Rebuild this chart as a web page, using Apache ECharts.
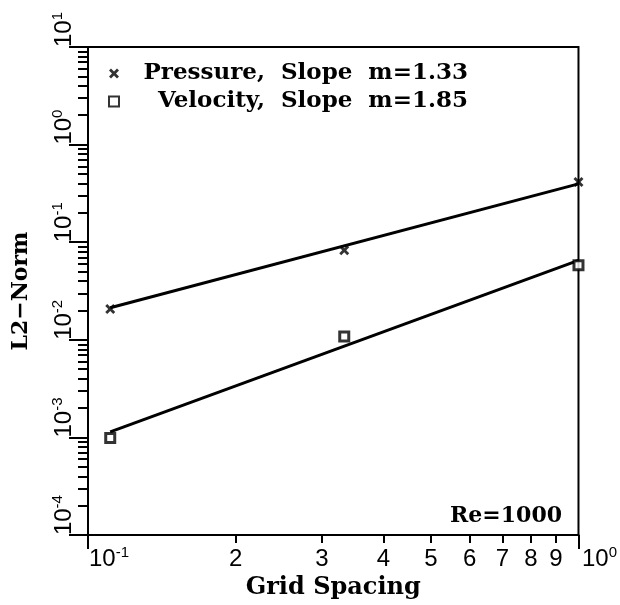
<!DOCTYPE html>
<html>
<head>
<meta charset="utf-8">
<script src="https://cdn.jsdelivr.net/npm/echarts@6/dist/echarts.min.js"></script>
<style>
  html, body { margin: 0; padding: 0; background: #fff; }
  #chart { width: 620px; height: 605px; }
</style>
</head>
<body>
<div id="chart"></div>
<script>
// grid spacing h and measured L2 error norms
const gridSpacing = [0.111, 0.333, 1.0];
const pressureNorm = [0.0207, 0.0826, 0.415];
const velocityNorm = [0.00099, 0.0108, 0.058];

const fitSpacing = [0.111, 1.0];
const pressureFit = [0.0213, 0.396];
const velocityFit = [0.00114, 0.0653];

const pressureName = 'Pressure,  Slope  m=1.33';
const velocityName = 'Velocity,  Slope  m=1.85';

// ticks and their labels
const xMajorTicks = [0.1, 1];
const xMajorLabels = ['{g|}{t|10}{s|-1}', '{g|}{t|10}{s|0}'];
const xMinorTicks = [0.2, 0.3, 0.4, 0.5, 0.6, 0.7, 0.8, 0.9];
const xMinorLabels = ['2', '3', '4', '5', '6', '7', '8', '9'];
const yMajorTicks = [1e-4, 1e-3, 1e-2, 1e-1, 1, 10];
const yMajorLabels = ['-4', '-3', '-2', '-1', '0', '1'];
const yMinorTicks = [];
yMajorTicks.slice(0, -1).forEach(d => {
  for (let k = 2; k <= 9; k++) yMinorTicks.push(+(d * k).toPrecision(3));
});

const serif = 'DejaVu Serif';
const sans = 'Liberation Sans';

const labelRich = {
  t: { fontFamily: sans, fontSize: 24, lineHeight: 28, color: '#000' },
  s: { fontFamily: sans, fontSize: 15, lineHeight: 15, verticalAlign: 'top', color: '#000' },
  g: { width: 42 }
};

function nearestIndex(list, v) {
  let best = 0;
  list.forEach((x, i) => {
    if (Math.abs(Math.log(x / v)) < Math.abs(Math.log(list[best] / v))) best = i;
  });
  return best;
}

const pairs = (xs, ys) => xs.map((x, i) => [x, ys[i]]);

const crossPath = 'path://M0,2L2,0L5,3L8,0L10,2L7,5L10,8L8,10L5,7L2,10L0,8L3,5Z';

const chart = echarts.init(document.getElementById('chart'), null, { renderer: 'canvas' });

chart.setOption({
  animation: false,
  backgroundColor: '#fff',
  title: {
    text: 'Re=1000',
    right: 58,
    bottom: 78,
    padding: 0,
    textStyle: { fontFamily: serif, fontWeight: 'bold', fontSize: 22, color: '#000' }
  },
  legend: {
    orient: 'vertical',
    left: 108,
    top: 62,
    itemWidth: 10,
    itemHeight: 10,
    itemGap: 5,
    padding: 0,
    data: [pressureName, velocityName],
    formatter: name => '{r|' + name + '}',
    textStyle: {
      rich: {
        r: { fontFamily: serif, fontWeight: 'bold', fontSize: 23, color: '#000', width: 344, align: 'right' }
      }
    }
  },
  grid: {
    left: 88, right: 41, top: 47, bottom: 66,
    show: true,
    borderColor: '#000',
    borderWidth: 2
  },
  xAxis: [
    {
      type: 'log',
      min: 0.1,
      max: 1,
      name: 'Grid Spacing',
      nameLocation: 'middle',
      nameGap: 40,
      nameTextStyle: { fontFamily: serif, fontWeight: 'bold', fontSize: 24, color: '#000' },
      axisLine: { lineStyle: { color: '#000', width: 2 } },
      axisTick: { customValues: xMajorTicks, length: 14, lineStyle: { color: '#000', width: 2 } },
      axisLabel: {
        customValues: xMajorTicks,
        margin: 10,
        formatter: v => xMajorLabels[nearestIndex(xMajorTicks, v)],
        rich: labelRich
      },
      splitLine: { show: false }
    },
    {
      type: 'log',
      min: 0.1,
      max: 1,
      position: 'bottom',
      offset: 0,
      axisLine: { show: false },
      axisTick: { customValues: xMinorTicks, length: 8, lineStyle: { color: '#000', width: 2 } },
      axisLabel: {
        customValues: xMinorTicks,
        margin: 10,
        formatter: v => '{t|' + xMinorLabels[nearestIndex(xMinorTicks, v)] + '}',
        rich: labelRich
      },
      splitLine: { show: false }
    }
  ],
  yAxis: [
    {
      type: 'log',
      min: 1e-4,
      max: 10,
      name: 'L2\u2212Norm',
      nameLocation: 'middle',
      nameRotate: 90,
      nameGap: 56,
      nameTextStyle: { fontFamily: serif, fontWeight: 'bold', fontSize: 22, color: '#000' },
      axisLine: { lineStyle: { color: '#000', width: 2 } },
      axisTick: { customValues: yMajorTicks, length: 19, lineStyle: { color: '#000', width: 2 } },
      axisLabel: {
        customValues: yMajorTicks,
        rotate: 90,
        align: 'left',
        verticalAlign: 'bottom',
        margin: 10,
        formatter: v => '{t|10}{s|' + yMajorLabels[nearestIndex(yMajorTicks, v)] + '}',
        rich: labelRich
      },
      splitLine: { show: false }
    },
    {
      type: 'log',
      min: 1e-4,
      max: 10,
      position: 'left',
      offset: 0,
      axisLine: { show: false },
      axisTick: { customValues: yMinorTicks, length: 10, lineStyle: { color: '#000', width: 2 } },
      axisLabel: { show: false },
      splitLine: { show: false }
    }
  ],
  series: [
    {
      name: 'pressure fit',
      type: 'line',
      data: pairs(fitSpacing, pressureFit),
      showSymbol: false,
      lineStyle: { color: '#000', width: 3 },
      z: 2
    },
    {
      name: 'velocity fit',
      type: 'line',
      data: pairs(fitSpacing, velocityFit),
      showSymbol: false,
      lineStyle: { color: '#000', width: 3 },
      z: 2
    },
    {
      name: pressureName,
      type: 'scatter',
      data: pairs(gridSpacing, pressureNorm),
      symbol: crossPath,
      symbolSize: 10,
      itemStyle: { color: '#000' },
      z: 3
    },
    {
      name: velocityName,
      type: 'scatter',
      data: pairs(gridSpacing, velocityNorm),
      symbol: 'rect',
      symbolSize: 9,
      itemStyle: { color: '#fff', borderColor: '#000', borderWidth: 3 },
      z: 3
    }
  ]
});
</script>
</body>
</html>
